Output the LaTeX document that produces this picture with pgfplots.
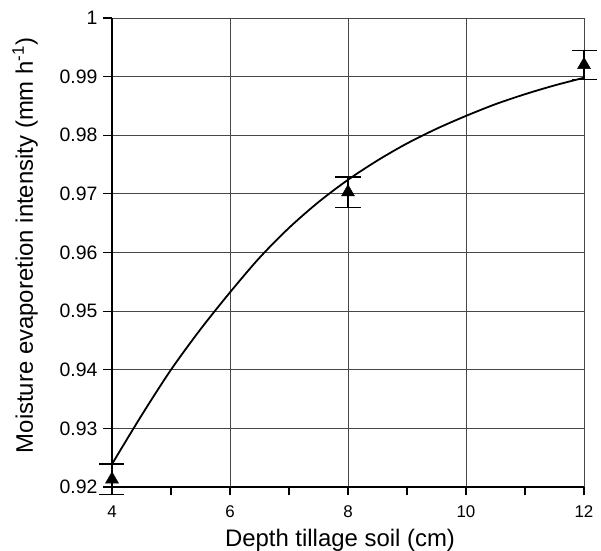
\documentclass[border=0pt]{standalone}
\usepackage{fontspec}
\setmainfont{Liberation Sans}
\usepackage{pgfplots}
\pgfplotsset{compat=1.18}
\usepackage{pgfplotstable}

\newcommand\yt{\fontsize{19.5}{19.5}\selectfont}
\newcommand\xt{\fontsize{17}{17}\selectfont}

% measured points: depth, intensity, half error
\pgfplotstableread{
x    y       err
4    0.9213  0.0026
8    0.9703  0.0026
12   0.9920  0.0025
}\measured

% fitted curve
\pgfplotstableread{
x     y
4.00  0.9239
4.50  0.9322
5.00  0.9400
5.50  0.9469
6.00  0.9532
6.50  0.9591
7.00  0.9642
7.50  0.9686
8.00  0.9724
8.50  0.9757
9.00  0.9786
9.50  0.9811
10.00 0.9833
10.50 0.9853
11.00 0.9870
11.50 0.9885
12.00 0.9898
}\fit

\begin{document}
\begin{tikzpicture}
\begin{axis}[
    scale only axis,
    width=472bp, height=469bp,
    xmin=4, xmax=12, ymin=0.92, ymax=1,
    xtick={4,6,8,10,12},
    xticklabels={\xt 4,\xt 6,\xt 8,\xt 10,\xt 12},
    minor xtick={5,7,9,11},
    ytick={0.92,0.93,0.94,0.95,0.96,0.97,0.98,0.99,1},
    yticklabels={\yt 0.92,\yt 0.93,\yt 0.94,\yt 0.95,\yt 0.96,\yt 0.97,
        \yt 0.98,\yt 0.99,\yt 1},
    axis x line*=bottom, axis y line*=left,
    axis line style={line width=1.6bp, black},
    tick align=outside,
    major tick length=8.5bp, minor tick length=8.5bp,
    tick style={black, line width=1.2bp},
    grid=major,
    major grid style={black!72, line width=0.9bp},
    yticklabel style={xshift=-2.5bp},
    xticklabel style={yshift=-6.5bp},
    label style={font=\fontsize{24}{24}\selectfont},
    xlabel={Depth tillage soil (cm)},
    ylabel={Moisture evaporetion intensity (mm h\textsuperscript{-1})},
    xlabel style={at={(axis description cs:0.5,0)}, anchor=base,
        yshift=-59.5bp, xshift=-8bp},
    ylabel style={at={(axis description cs:-0.184,0.515)}, anchor=center},
    clip=false,
]
\addplot[black, line width=1.8bp, smooth] table[x=x, y=y] {\fit};
\addplot[only marks, mark=triangle*, mark size=7.5bp, black,
    error bars/.cd, y dir=both, y explicit,
    error bar style={black, line width=1.3bp},
    error mark options={rotate=90, black, mark size=12.5bp, line width=1.3bp}]
    table[x=x, y=y, y error=err] {\measured};
\end{axis}
\pgfresetboundingbox
\path[use as bounding box]
    ([xshift=-112bp, yshift=-64bp]current axis.south west)
    rectangle ([xshift=17bp, yshift=18bp]current axis.north east);
\end{tikzpicture}
\end{document}
